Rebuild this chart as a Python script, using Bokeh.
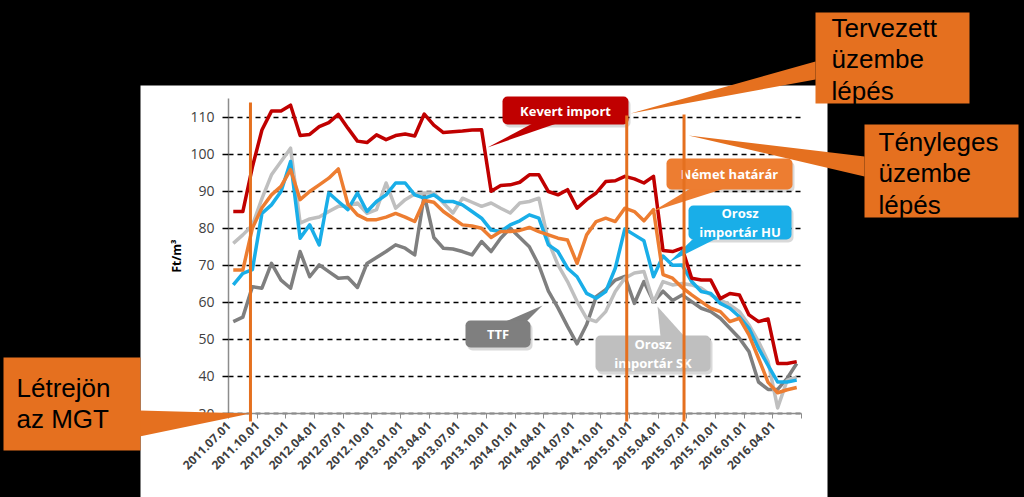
import math
from bokeh.plotting import figure
from bokeh.models import (FixedTicker, BoxAnnotation, PolyAnnotation, Label, Arrow,
                          Range1d, ColumnDataSource, GlobalInlineStyleSheet)
from bokeh.embed import file_html
from bokeh.resources import INLINE

# ---------------- data ----------------
tick_labels = ["2011.07.01", "2011.10.01", "2012.01.01", "2012.04.01", "2012.07.01",
               "2012.10.01", "2013.01.01", "2013.04.01", "2013.07.01", "2013.10.01",
               "2014.01.01", "2014.04.01", "2014.07.01", "2014.10.01", "2015.01.01",
               "2015.04.01", "2015.07.01", "2015.10.01", "2016.01.01", "2016.04.01"]

# monthly values 2011.07 .. 2016.06 (Ft/m3)
kevert_import = [84.5, 84.5, 96.5, 106.5, 111.6, 111.6, 113.2, 105.0, 105.3, 107.4,
                 108.5, 110.7, 107.0, 103.5, 103.1, 105.2, 103.9, 105.0, 105.4, 104.9,
                 110.8, 107.8, 105.8, 106.0, 106.2, 106.5, 106.6, 90.0, 91.5, 91.7,
                 92.4, 94.4, 94.4, 89.9, 89.0, 90.4, 85.4, 87.7, 89.5, 92.6,
                 92.8, 94.0, 93.3, 92.2, 94.0, 74.0, 73.7, 74.6, 66.5, 66.0,
                 66.0, 61.0, 62.4, 62.0, 56.6, 54.8, 55.5, 43.5, 43.5, 44.0]
nemet_hatarar = [68.7, 68.7, 80.0, 85.5, 89.0, 91.3, 95.8, 87.7, 89.9, 91.7,
                 93.5, 96.0, 86.5, 83.6, 82.3, 82.3, 83.0, 84.0, 83.0, 81.8,
                 87.5, 87.0, 84.5, 82.7, 80.9, 80.6, 80.0, 77.5, 79.1, 79.1,
                 79.4, 80.2, 79.1, 78.2, 77.3, 76.8, 70.5, 78.2, 81.8, 82.7,
                 81.8, 85.4, 84.5, 82.0, 85.0, 67.5, 66.5, 64.0, 62.0, 60.2,
                 58.4, 57.5, 54.8, 55.7, 51.2, 44.9, 38.4, 35.6, 36.4, 37.0]
orosz_hu = [64.7, 67.8, 68.8, 84.0, 86.3, 89.9, 98.0, 77.3, 80.9, 75.5,
            89.5, 87.2, 85.0, 89.5, 84.5, 87.2, 89.0, 92.2, 92.2, 89.0,
            88.1, 89.0, 87.2, 87.2, 86.3, 84.5, 82.7, 79.5, 79.1, 80.9,
            82.0, 83.6, 82.7, 75.5, 73.7, 69.2, 66.9, 62.4, 61.1, 62.9,
            69.2, 79.8, 78.2, 76.6, 66.9, 72.5, 70.0, 70.1, 65.6, 62.9,
            62.4, 59.7, 58.4, 56.1, 53.0, 47.6, 43.0, 38.5, 38.5, 39.0]
orosz_sk = [75.9, 78.2, 80.8, 88.0, 94.4, 98.0, 101.6, 81.4, 82.5, 83.0,
            84.5, 85.9, 86.0, 86.8, 84.0, 85.0, 92.2, 85.4, 87.7, 89.2,
            89.5, 89.5, 86.8, 84.1, 88.1, 87.0, 85.9, 86.8, 85.4, 84.1,
            86.8, 87.2, 88.1, 76.4, 70.1, 65.6, 60.2, 55.7, 54.8, 57.5,
            62.9, 66.5, 67.9, 68.3, 60.0, 65.6, 64.7, 65.1, 64.7, 63.8,
            62.0, 60.6, 59.3, 57.5, 53.9, 49.4, 44.0, 31.5, 39.0, 39.8]
ttf = [54.8, 56.0, 64.2, 63.8, 70.5, 66.0, 63.8, 73.7, 66.9, 70.1,
       68.3, 66.5, 66.7, 64.0, 70.5, 72.1, 73.7, 75.5, 74.6, 72.8,
       89.0, 77.5, 74.6, 74.4, 73.7, 72.8, 76.4, 73.7, 77.3, 80.0,
       77.5, 75.0, 70.0, 63.0, 58.5, 53.5, 48.8, 54.0, 61.5, 63.4,
       66.0, 67.0, 59.7, 65.6, 60.2, 63.0, 60.5, 62.0, 60.2, 58.4,
       57.5, 55.7, 53.0, 50.3, 46.7, 38.5, 36.5, 36.5, 39.5, 43.5]

# events (months after 2011.07.01): MGT created, planned start, actual start
event_months = [2.3, 41.7, 47.7]

# ---------------- layout constants (pixels) ----------------
W, H = 1024, 497
FL, FR, FT, FB = 228, 801, 98, 413          # where the data area sits on the page
X0, X1, Y0, Y1 = 0.0, 60.0, 30.0, 115.0


def dx(px):
    return X0 + (px - FL) * (X1 - X0) / (FR - FL)


def dy(py):
    return Y0 + (FB - py) * (Y1 - Y0) / (FB - FT)


ORANGE_OUT = "#E5701F"
C_RED, C_ORANGE, C_BLUE, C_LGRAY, C_DGRAY = "#C00000", "#ED7D31", "#19AEE8", "#BFBFBF", "#7F7F7F"

p = figure(width=W, height=H, output_backend="svg", toolbar_location=None,
           x_range=Range1d(dx(0), dx(W)), y_range=Range1d(dy(H), dy(0)),
           min_border=0)
p.border_fill_color = "black"
p.background_fill_color = "black"
p.outline_line_color = None
p.stylesheets = [GlobalInlineStyleSheet(css="html,body{margin:0;padding:0;background:#000;}")]

# white chart area behind everything
p.add_layout(BoxAnnotation(left=dx(140), right=dx(827), top=dy(85), bottom=dy(H),
                           fill_color="white", fill_alpha=1, line_color=None, level="image"))

# axes (library axes, pinned at the data origin)
p.xaxis.fixed_location = Y0
p.yaxis.fixed_location = X0
p.xaxis.bounds = (X0, X1)
p.yaxis.bounds = (Y0, Y1)

x_ticks = [3 * k for k in range(21)]
p.xaxis.ticker = FixedTicker(ticks=x_ticks)
p.xaxis.major_label_overrides = {3 * k: lab for k, lab in enumerate(tick_labels)} | {60: ""}
p.xaxis.major_label_orientation = math.pi / 4
p.xaxis.major_label_text_font = "Open Sans"
p.xaxis.major_label_text_font_style = "bold"
p.xaxis.major_label_text_font_size = "12px"
p.xaxis.major_label_text_color = "#404040"
p.xaxis.axis_line_color = "#8C8C8C"
p.xaxis.axis_line_width = 1.5
p.xaxis.major_tick_line_color = "#8C8C8C"
p.xaxis.major_tick_out = 5
p.xaxis.major_tick_in = 0
p.xaxis.minor_tick_line_color = None

p.yaxis.ticker = FixedTicker(ticks=[30, 40, 50, 60, 70, 80, 90, 100, 110])
p.yaxis.major_label_text_font = "Open Sans"
p.yaxis.major_label_text_font_size = "14px"
p.yaxis.major_label_text_color = "#404040"
p.yaxis.major_label_standoff = 8
p.yaxis.axis_line_color = "#8C8C8C"
p.yaxis.axis_line_width = 1.5
p.yaxis.major_tick_line_color = "black"
p.yaxis.major_tick_line_width = 1.3
p.yaxis.major_tick_out = 6
p.yaxis.major_tick_in = 0
p.yaxis.minor_tick_line_color = None
p.yaxis.axis_label = "Ft/m³"
p.yaxis.axis_label_text_font = "Open Sans"
p.yaxis.axis_label_text_font_style = "bold"
p.yaxis.axis_label_text_font_size = "12px"
p.yaxis.axis_label_text_color = "black"
p.yaxis.axis_label_standoff = 2

p.xgrid.grid_line_color = None
p.ygrid.grid_line_color = "black"
p.ygrid.grid_line_dash = "5 4"
p.ygrid.grid_line_width = 1.3
p.ygrid.bounds = (Y0, Y1)
p.ygrid.cross_bounds = (X0, X1)

# series
xs = [i + 0.5 for i in range(len(kevert_import))]
src = ColumnDataSource(dict(x=xs, kevert=kevert_import, nemet=nemet_hatarar,
                            hu=orosz_hu, sk=orosz_sk, ttf=ttf))
for col, color in [("ttf", C_DGRAY), ("sk", C_LGRAY), ("hu", C_BLUE),
                   ("nemet", C_ORANGE), ("kevert", C_RED)]:
    p.line("x", col, source=src, line_color=color, line_width=3.5, line_join="round")


# ---------------- in-chart callouts ----------------
def callout(box, wedge, color, text, font_size="13px"):
    l, t, r, b = box
    p.add_layout(BoxAnnotation(left=dx(l + 2), right=dx(r + 2), top=dy(t + 3), bottom=dy(b + 3),
                               fill_color="black", fill_alpha=0.15, line_color=None,
                               border_radius=5))
    p.add_layout(PolyAnnotation(xs=[dx(x) for x, _ in wedge], ys=[dy(y) for _, y in wedge],
                                fill_color=color, fill_alpha=1, line_color=None))
    p.add_layout(BoxAnnotation(left=dx(l), right=dx(r), top=dy(t), bottom=dy(b),
                               fill_color=color, fill_alpha=1, line_color=None,
                               border_radius=5))
    p.add_layout(Label(x=dx((l + r) / 2), y=dy((t + b) / 2), text=text,
                       text_align="center", text_baseline="middle",
                       text_font="Open Sans", text_font_style="bold",
                       text_font_size=font_size, text_color="white",
                       text_line_height=1.05))


callout((502, 96, 628, 124), [(532, 123), (556, 123), (487, 147)], C_RED, "Kevert import")
callout((666, 158, 792, 189), [(690, 188), (724, 188), (652, 211)], C_ORANGE, "Német határár")
callout((688, 205, 791, 239), [(693, 238), (716, 238), (668, 262)], C_BLUE, "Orosz\nimportár HU")
callout((465, 320, 530, 347), [(505, 321), (526, 321), (542, 305)], C_DGRAY, "TTF")
callout((595, 335, 710, 371), [(660, 336), (684, 336), (657, 306)], C_LGRAY, "Orosz\nimportár SK")

# ---------------- event lines ----------------
event_tops = [102, 115, 114]
for m, top in zip(event_months, event_tops):
    p.add_layout(Arrow(end=None, x_start=m, x_end=m, y_start=dy(top), y_end=dy(421),
                       line_color=ORANGE_OUT, line_width=3))


# ---------------- outer callouts ----------------
def outer(box, wedge, text, tx, ty, size="26px"):
    l, t, r, b = box
    p.add_layout(PolyAnnotation(xs=[dx(x) for x, _ in wedge], ys=[dy(y) for _, y in wedge],
                                fill_color=ORANGE_OUT, fill_alpha=1, line_color=None))
    p.add_layout(BoxAnnotation(left=dx(l), right=dx(r), top=dy(t), bottom=dy(b),
                               fill_color=ORANGE_OUT, fill_alpha=1, line_color=None))
    p.add_layout(Label(x=dx(tx), y=dy(ty), text=text, text_align="left", text_baseline="top",
                       text_font="Liberation Sans", text_font_size=size,
                       text_color="black", text_line_height=1.06))


outer((815, 12, 969, 103), [(630, 113), (815, 61), (815, 79)],
      "Tervezett\nüzembe\nlépés", 831, 12)
outer((864, 124, 1018, 217), [(688, 135), (864, 156), (864, 176)],
      "Tényleges\nüzembe\nlépés", 878, 126)
outer((3, 357, 140, 450), [(139, 410), (250, 413), (139, 436)],
      "Létrejön\naz MGT", 16, 372)

open("out.html", "w").write(file_html(p, INLINE))
